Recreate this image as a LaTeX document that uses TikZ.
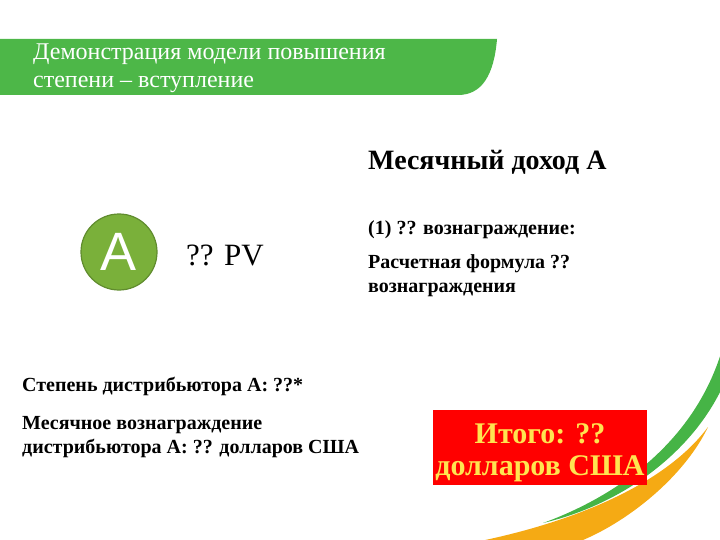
\documentclass[tikz,border=0pt]{standalone}
\usepackage{fontspec}
\setmainfont{Liberation Serif}
\newfontfamily\sansA{Liberation Sans}
\definecolor{hdrgreen}{RGB}{77,183,72}
\definecolor{circgreen}{RGB}{122,176,58}
\definecolor{circedge}{RGB}{96,140,46}
\definecolor{swgreen}{RGB}{70,180,70}
\definecolor{sworange}{RGB}{245,170,20}
\definecolor{boxyellow}{RGB}{255,228,80}
\begin{document}
\begin{tikzpicture}[x=1pt,y=-1pt,
  lbl/.style={anchor=base west,inner sep=0pt,font=\fontsize{20}{24}\selectfont\bfseries},
  ttl/.style={anchor=base west,inner sep=0pt,text=white,font=\fontsize{24}{28}\selectfont},
  totl/.style={anchor=base,inner sep=0pt,text=boxyellow,font=\fontsize{30}{34}\selectfont\bfseries}]
\useasboundingbox (0,0) rectangle (720,540);
\begin{scope}
\clip (0,0) rectangle (720,540);
% header band
\fill[hdrgreen] (0,39) -- (497,39) .. controls (494,75) and (482,95) .. (458,95) -- (0,95) -- cycle;
% swooshes
\fill[swgreen] (543,523) .. controls (620,495) and (695,440) .. (722,350)
  -- (722,388) .. controls (690,455) and (620,505) .. (543,523) -- cycle;
\fill[sworange] (460,545) .. controls (570,525) and (665,485) .. (708,427)
  .. controls (680,485) and (610,535) .. (560,548) -- cycle;
\end{scope}
\node[ttl] (t1) at (33,60) {Демонстрация модели повышения};
\node[ttl] (t2) at (33,88) {степени – вступление};
% circle A
\node[circle,fill=circgreen,draw=circedge,line width=1.2pt,minimum size=76pt,inner sep=0pt,
  text=white,font=\sansA\fontsize{54}{54}\selectfont] (ca) at (119,252) {A};
\node[anchor=base west,inner sep=0pt,font=\fontsize{31}{34}\selectfont] (pv) at (186,265) {?? PV};
% right texts
\node[anchor=base west,inner sep=0pt,font=\fontsize{28}{32}\selectfont\bfseries] (inc) at (368,170) {Месячный доход А};
\node[lbl] (r1) at (368,234) {(1) ?? вознаграждение:};
\node[lbl] (r2) at (368,268) {Расчетная формула ??};
\node[lbl] (r3) at (368,292) {вознаграждения};
% left texts
\node[lbl] (l1) at (22,391) {Степень дистрибьютора А: ??*};
\node[lbl] (l2) at (22,429) {Месячное вознаграждение};
\node[lbl] (l3) at (22,453) {дистрибьютора А: ?? долларов США};
% red box
\fill[red] (433,410) rectangle (647,485);
\node[totl] (tot1) at (540,443) {Итого: ??};
\node[totl] (tot2) at (540,475) {долларов США};
\end{tikzpicture}
\end{document}
